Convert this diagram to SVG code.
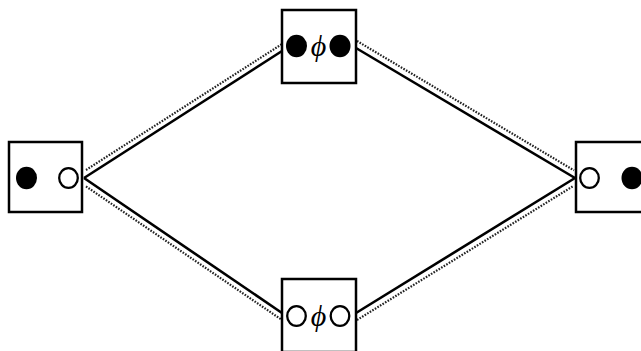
<svg xmlns="http://www.w3.org/2000/svg" width="641" height="351" viewBox="0 0 641 351">
<style>
.box{fill:#fff;stroke:#000;stroke-width:2.5}
.solid{stroke:#000;stroke-width:2.6;fill:none}
.dot{stroke:#222;stroke-width:2.2;stroke-dasharray:1.6 1.4;fill:none}
.fc{fill:#000}
.oc{fill:#fff;stroke:#000;stroke-width:2.3}
.phi{font-family:"Liberation Serif","DejaVu Serif",serif;font-style:italic;font-size:30px;text-anchor:middle}
</style>
<rect width="641" height="351" fill="#fff"/>
<g id="connectors">
<line class="solid" x1="84" y1="178" x2="282" y2="51"/>
<line class="dot" x1="86" y1="170" x2="282" y2="44"/>
<line class="solid" x1="356" y1="48" x2="575" y2="178"/>
<line class="dot" x1="357" y1="41" x2="574" y2="170.4"/>
<line class="solid" x1="84" y1="178" x2="282" y2="313"/>
<line class="dot" x1="86" y1="186.4" x2="282" y2="320"/>
<line class="solid" x1="356" y1="313" x2="575" y2="178"/>
<line class="dot" x1="357" y1="320" x2="573" y2="186.2"/>
</g>
<g id="left">
<rect class="box" x="9" y="142" width="73" height="70"/>
<ellipse class="fc" cx="26.5" cy="178" rx="10.5" ry="11.2"/>
<ellipse class="oc" cx="68.5" cy="178" rx="9.3" ry="9.9"/>
</g>
<g id="top">
<rect class="box" x="282" y="10" width="74" height="73"/>
<ellipse class="fc" cx="296.5" cy="46" rx="10.5" ry="11.2"/>
<ellipse class="fc" cx="340" cy="46" rx="10.5" ry="11.2"/>
<text class="phi" x="318.5" y="56">ϕ</text>
</g>
<g id="bottom">
<rect class="box" x="282" y="279" width="74" height="73"/>
<ellipse class="oc" cx="296.5" cy="316" rx="9.3" ry="9.9"/>
<ellipse class="oc" cx="340" cy="316" rx="9.3" ry="9.9"/>
<text class="phi" x="318.5" y="326">ϕ</text>
</g>
<g id="right">
<rect class="box" x="576" y="142" width="73" height="70"/>
<ellipse class="oc" cx="589.5" cy="178" rx="9.3" ry="9.9"/>
<ellipse class="fc" cx="632" cy="178" rx="10.5" ry="11.2"/>
</g>
</svg>
